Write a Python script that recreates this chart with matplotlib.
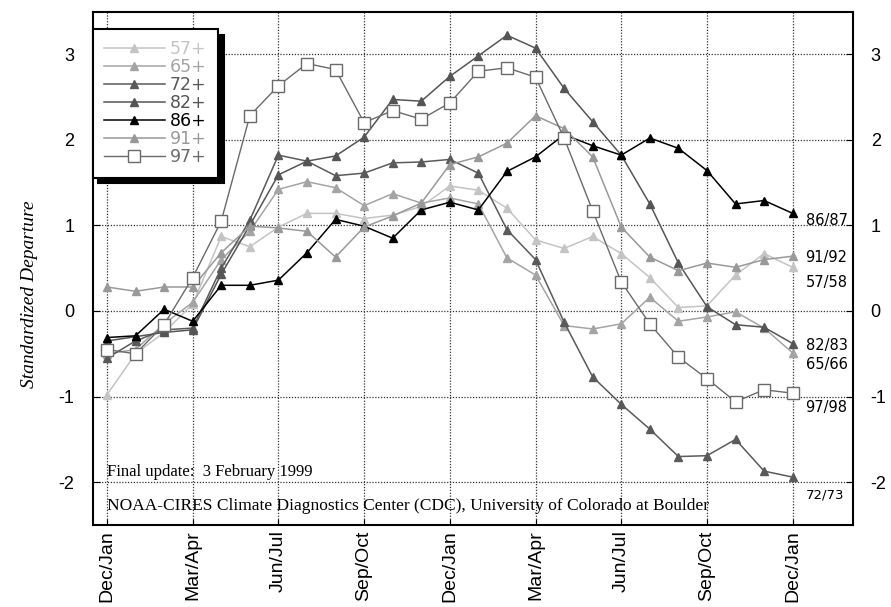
import numpy as np
import matplotlib.pyplot as plt

plt.rcParams['axes.unicode_minus'] = False

# bi-monthly seasons over two years, Dec/Jan (year 0) .. Dec/Jan (year +2)
n_seasons = 25
tick_pos = [0, 3, 6, 9, 12, 15, 18, 21, 24]
tick_labels = ['Dec/Jan', 'Mar/Apr', 'Jun/Jul', 'Sep/Oct', 'Dec/Jan',
               'Mar/Apr', 'Jun/Jul', 'Sep/Oct', 'Dec/Jan']

# MEI values for the strong El Nino events
mei_57 = [-0.98, -0.50, -0.25, 0.08, 0.87, 0.75, 0.98, 1.14, 1.14, 1.08, 1.12, 1.22,
          1.46, 1.41, 1.20, 0.83, 0.73, 0.87, 0.67, 0.39, 0.04, 0.06, 0.42, 0.67, 0.51]
mei_65 = [-0.50, -0.45, -0.15, 0.10, 0.60, 0.93, 1.42, 1.51, 1.44, 1.23, 1.37, 1.26,
          1.32, 1.25, 0.62, 0.42, -0.17, -0.21, -0.15, 0.16, -0.12, -0.07, -0.01, -0.20, -0.49]
mei_72 = [-0.55, -0.35, -0.22, -0.20, 0.50, 1.06, 1.82, 1.75, 1.58, 1.61, 1.73, 1.74,
          1.77, 1.61, 0.95, 0.60, -0.13, -0.77, -1.09, -1.38, -1.70, -1.69, -1.50, -1.87, -1.94]
mei_82 = [-0.35, -0.30, -0.25, -0.22, 0.43, 1.00, 1.59, 1.75, 1.81, 2.03, 2.47, 2.45,
          2.74, 2.98, 3.22, 3.07, 2.60, 2.21, 1.82, 1.25, 0.56, 0.05, -0.16, -0.19, -0.38]
mei_86 = [-0.31, -0.29, 0.02, -0.12, 0.30, 0.30, 0.36, 0.68, 1.07, 0.99, 0.85, 1.18,
          1.27, 1.18, 1.63, 1.80, 2.06, 1.93, 1.82, 2.02, 1.90, 1.64, 1.25, 1.29, 1.14]
mei_91 = [0.28, 0.23, 0.28, 0.28, 0.68, 0.99, 0.97, 0.93, 0.63, 0.98, 1.11, 1.26,
          1.71, 1.80, 1.96, 2.28, 2.13, 1.80, 0.98, 0.63, 0.47, 0.56, 0.51, 0.60, 0.64]
mei_97 = [-0.45, -0.50, -0.16, 0.39, 1.05, 2.28, 2.63, 2.89, 2.82, 2.20, 2.34, 2.24,
          2.43, 2.80, 2.84, 2.73, 2.02, 1.17, 0.34, -0.15, -0.54, -0.79, -1.06, -0.92, -0.96]

legend_names = ['57+', '65+', '72+', '82+', '86+', '91+', '97+']
end_labels = ['57/58', '65/66', '72/73', '82/83', '86/87', '91/92', '97/98']

series = [mei_57, mei_65, mei_72, mei_82, mei_86, mei_91, mei_97]
colors = ['#c4c4c4', '#a4a4a4', '#5a5a5a', '#555555', '#000000', '#999999', '#6a6a6a']
# vertical placement of the end labels (data units)
label_y = [0.33, -0.63, -2.15, -0.40, 1.06, 0.62, -1.13]

x = np.arange(n_seasons)

fig = plt.figure(figsize=(8.91, 6.07), dpi=100)
ax = fig.add_axes([0.104, 0.135, 0.853, 0.845])

for vals, c, name in zip(series, colors, legend_names):
    if name == '97+':
        ax.plot(x, vals, color=c, lw=1.0, marker='s', ms=8.5, mfc='white',
                mec=c, mew=1.0, label=name, zorder=3)
    else:
        ax.plot(x, vals, color=c, lw=1.1, marker='^', ms=5.5, mfc=c, mec=c,
                label=name, zorder=3)

for lab, ly in zip(end_labels, label_y):
    fs = 9.5 if lab == '72/73' else 10.5
    ax.text(24.45, ly, lab, fontsize=fs, va='center', ha='left')

ax.set_xlim(-0.5, 26.1)
ax.set_ylim(-2.5, 3.49)
ax.set_xticks(tick_pos)
ax.set_xticklabels(tick_labels, rotation=90, fontsize=14, family='Liberation Sans')
ax.set_yticks([-2, -1, 0, 1, 2, 3])
ax.set_yticklabels(['-2', '-1', '0', '1', '2', '3'], fontsize=13, family='Liberation Sans')
ax.tick_params(axis='y', right=True, labelright=True, direction='in', length=5, pad=13)
ax.tick_params(axis='x', direction='in', length=4, pad=4)
ax.grid(True, color='#333333', linestyle=(0, (1, 1.3)), lw=0.9)
for s in ax.spines.values():
    s.set_linewidth(1.5)

ax.set_ylabel('Standardized Departure', family='Liberation Serif', style='italic',
              fontsize=14)
ax.yaxis.set_label_coords(-0.072, 0.45)

ax.text(0, -1.97, 'Final update:  3 February 1999', family='Liberation Serif',
        fontsize=12, va='bottom')
ax.text(0, -2.37, 'NOAA-CIRES Climate Diagnostics Center (CDC), University of Colorado at Boulder',
        family='Liberation Serif', fontsize=12.5, va='bottom')

leg = ax.legend(loc='upper left', bbox_to_anchor=(0.0, 0.967), borderaxespad=0,
                fontsize=12.5, labelspacing=0.0, handlelength=3.5, handletextpad=0.3,
                borderpad=0.65, fancybox=False, edgecolor='black',
                shadow={'color': 'black', 'alpha': 1.0, 'ox': 4, 'oy': -4})
leg.get_frame().set_linewidth(1.5)
leg.get_frame().set_alpha(1.0)
for t, c in zip(leg.get_texts(), colors):
    t.set_color(c)

fig.savefig('out.png', dpi=100)
